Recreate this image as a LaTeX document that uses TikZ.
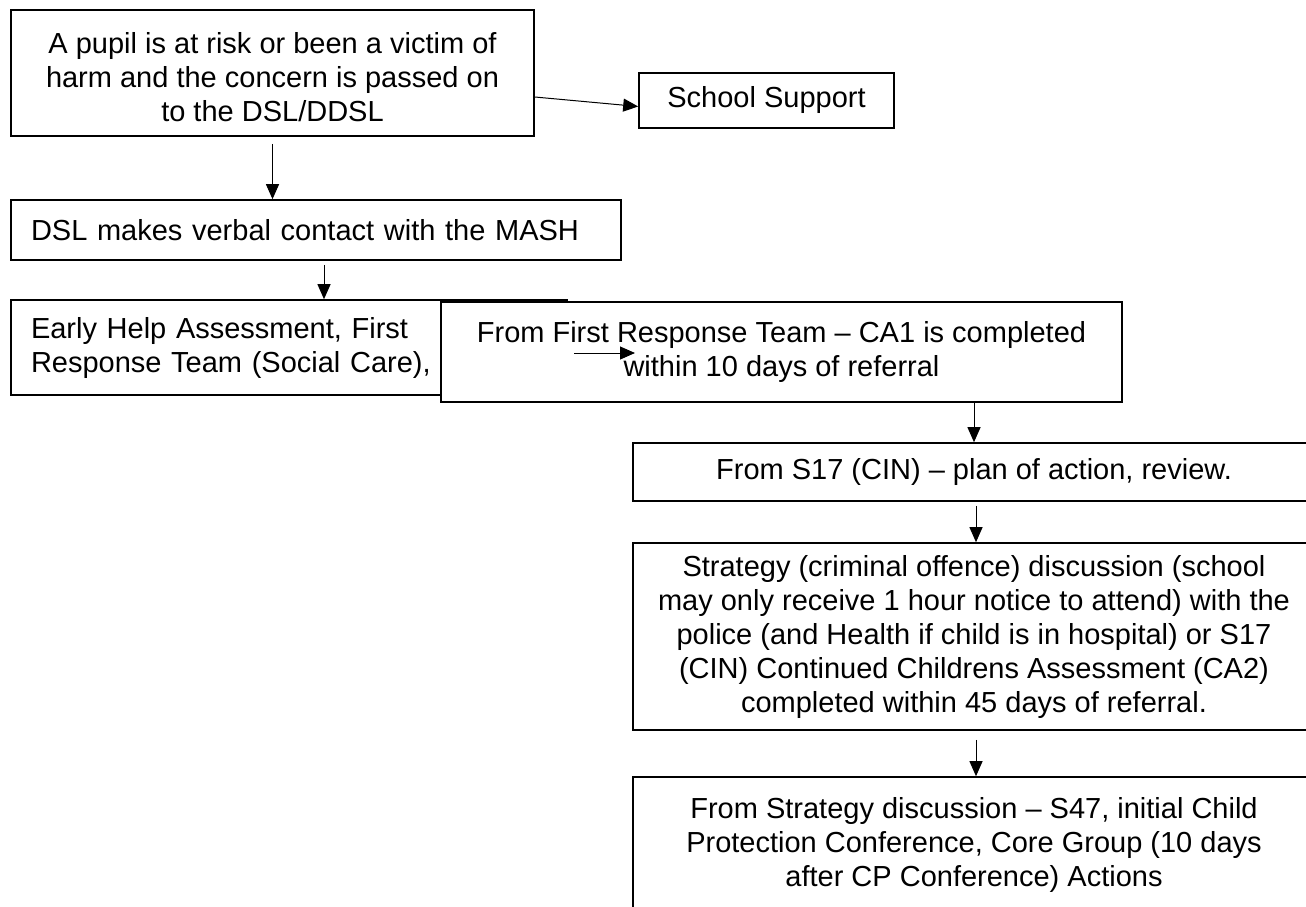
\documentclass[tikz,border=0pt]{standalone}
\usepackage{fontspec}
\setmainfont{Liberation Sans}
\usetikzlibrary{arrows.meta}

\begin{document}
\begin{tikzpicture}[x=1pt, y=-1pt,
  box/.style={draw, rectangle, line width=1.6pt, fill=white, inner sep=0pt, align=center, font=\fontsize{29}{34}\selectfont},
  lbox/.style={box, align=left, inner xsep=20pt},
  >={Triangle[length=15pt,width=13pt]}]
\clip (0,0) rectangle (1306,907);

\node[box, minimum width=523, minimum height=126] (pupil) at (272.5,73) {\rule{0pt}{30pt}A pupil is at risk or been a victim of\\harm and the concern is passed on\\to the DSL/DDSL};
\node[box, minimum width=255, minimum height=55] (support) at (766.5,100.5) {School Support};
\node[lbox, text width=570pt, minimum height=60] (mash) at (316,230) {DSL makes verbal contact with the MASH};
\node[lbox, text width=516pt, minimum height=95] (early) at (289,347.5) {Early Help Assessment, First\\Response Team (Social Care),};
\node[box, minimum width=681, minimum height=100] (frt) at (781.5,352) {From First Response Team -- CA1 is completed\\within 10 days of referral};
\node[box, minimum width=682, minimum height=58] (s17) at (974,472) {From S17 (CIN) -- plan of action, review.};
\node[box, minimum width=682, minimum height=187] (strategy) at (974,636.5) {Strategy (criminal offence) discussion (school\\may only receive 1 hour notice to attend) with the\\police (and Health if child is in hospital) or S17\\(CIN) Continued Childrens Assessment (CA2)\\completed within 45 days of referral.};
\node[box, minimum width=682, minimum height=136] (s47) at (974,845) {From Strategy discussion -- S47, initial Child\\Protection Conference, Core Group (10 days\\after CP Conference) Actions};

\coordinate (stubA) at (574,353);
\coordinate (stubB) at (635,353);

\path[->, line width=1pt]
([yshift=-24pt]pupil.east) edge ([yshift=-6pt]support.west)
([yshift=-7pt]pupil.south) edge (pupil.south |- mash.north)
([xshift=8pt,yshift=-4pt]mash.south) edge ([xshift=8pt]mash.south |- early.north)
(frt.south -| s17.north) edge (s17.north)
([xshift=2pt,yshift=-4pt]s17.south) edge ([xshift=2pt]strategy.north)
([xshift=2pt,yshift=-9pt]strategy.south) edge ([xshift=2pt]s47.north)
(stubA) edge (stubB);
\end{tikzpicture}
\end{document}
